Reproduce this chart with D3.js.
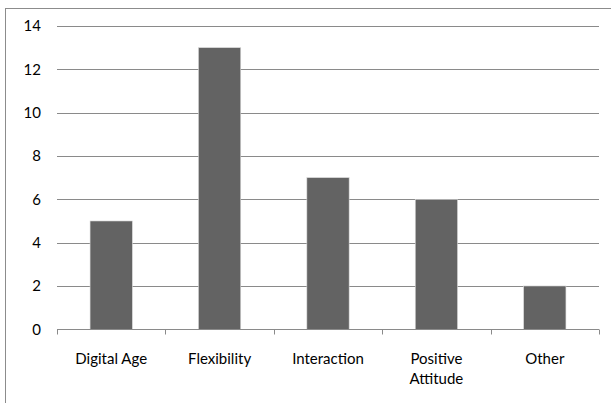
<!DOCTYPE html>
<html>
<head>
<meta charset="utf-8">
<script src="https://cdn.jsdelivr.net/npm/d3@7/dist/d3.min.js"></script>
<style>
  html, body { margin: 0; padding: 0; background: #fff; }
  svg { display: block; }
  text { font-family: Lato, "Open Sans", sans-serif; fill: #000; }
</style>
</head>
<body>
<svg id="chart" width="611" height="403"></svg>
<script>
const categories = ["Digital Age", "Flexibility", "Interaction", "Positive Attitude", "Other"];
const values = [5, 13, 7, 6, 2];
const yTicks = [0, 2, 4, 6, 8, 10, 12, 14];

const W = 611, H = 403;
const margin = { left: 57, right: 12, top: 26, bottom: 73.7 };
const svg = d3.select("#chart");

// outer chart frame
svg.append("rect")
  .attr("x", 5.5).attr("y", 8.5)
  .attr("width", 620).attr("height", 420)
  .attr("fill", "none").attr("stroke", "#8c8c8c").attr("stroke-width", 1);

const x = d3.scaleBand()
  .domain(categories)
  .range([margin.left, W - margin.right])
  .paddingInner(0.61).paddingOuter(0.305);

const y = d3.scaleLinear()
  .domain([0, 14])
  .range([H - margin.bottom, margin.top]);

// horizontal gridlines
svg.append("g")
  .selectAll("line")
  .data(yTicks.filter(d => d > 0))
  .join("line")
  .attr("x1", margin.left).attr("x2", W - margin.right)
  .attr("y1", d => Math.round(y(d)) + 0.5).attr("y2", d => Math.round(y(d)) + 0.5)
  .attr("stroke", "#8a8a8a").attr("stroke-width", 1);

// y tick labels
svg.append("g")
  .selectAll("text")
  .data(yTicks)
  .join("text")
  .attr("x", 41)
  .attr("y", d => y(d))
  .attr("dy", "0.35em")
  .attr("text-anchor", "end")
  .attr("font-size", 15)
  .text(d => d);

// bars
svg.append("g")
  .selectAll("rect")
  .data(values)
  .join("rect")
  .attr("x", (d, i) => x(categories[i]))
  .attr("width", x.bandwidth())
  .attr("y", d => y(d))
  .attr("height", d => y(0) - y(d))
  .attr("fill", "#636363")
  .attr("stroke", "#d9d9d9").attr("stroke-width", 0.6);

// x axis line and tick marks at category boundaries
const y0 = Math.round(y(0)) + 0.5;
svg.append("line")
  .attr("x1", margin.left).attr("x2", W - margin.right)
  .attr("y1", y0).attr("y2", y0)
  .attr("stroke", "#8a8a8a").attr("stroke-width", 1.2);

const step = x.step();
const boundaries = d3.range(categories.length + 1).map(i => margin.left + i * step);
svg.append("g")
  .selectAll("line")
  .data(boundaries)
  .join("line")
  .attr("x1", d => Math.round(d) + 0.5).attr("x2", d => Math.round(d) + 0.5)
  .attr("y1", y0).attr("y2", y0 + 5)
  .attr("stroke", "#8a8a8a").attr("stroke-width", 1);

// category labels, wrapped onto two lines where needed
const labelLines = { "Positive Attitude": ["Positive", "Attitude"] };
svg.append("g")
  .selectAll("text")
  .data(categories)
  .join("text")
  .attr("text-anchor", "middle")
  .attr("font-size", 15)
  .attr("x", d => x(d) + x.bandwidth() / 2)
  .attr("y", 364)
  .each(function(d) {
    const lines = labelLines[d] || [d];
    const t = d3.select(this);
    lines.forEach((ln, i) => {
      t.append("tspan")
        .attr("x", x(d) + x.bandwidth() / 2)
        .attr("dy", i === 0 ? 0 : 20)
        .text(ln);
    });
  });
</script>
</body>
</html>
